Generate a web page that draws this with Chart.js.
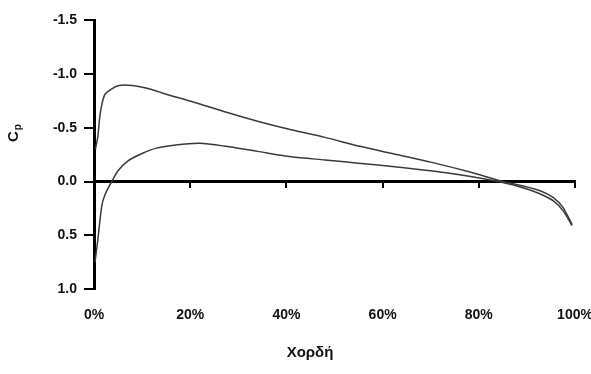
<!DOCTYPE html>
<html>
<head>
<meta charset="utf-8">
<script src="https://cdn.jsdelivr.net/npm/chart.js@4"></script>
<style>
html, body { margin: 0; padding: 0; background: #fff; }
</style>
</head>
<body>
<canvas id="chart" width="591" height="374"></canvas>
<script>
// pressure coefficient along the chord
const upperChord = [0.3, 0.8, 1.2, 1.7, 2.3, 3.7, 5, 7, 9, 12, 15, 19, 22, 27, 34, 41, 48, 55, 62, 70, 78, 85, 89, 93, 95.5, 97.5, 99.4];
const upperCp = [-0.3, -0.42, -0.6, -0.73, -0.81, -0.86, -0.89, -0.895, -0.885, -0.855, -0.81, -0.76, -0.72, -0.65, -0.56, -0.48, -0.41, -0.33, -0.26, -0.18, -0.09, 0, 0.04, 0.09, 0.15, 0.24, 0.4];
const lowerChord = [0.2, 0.8, 1.6, 2.3, 3.7, 5, 7, 10, 13, 17, 22, 27, 34, 41, 48, 55, 62, 70, 78, 83, 87, 90, 93, 95.5, 97.5, 99.4];
const lowerCp = [0.75, 0.54, 0.23, 0.12, 0, -0.1, -0.19, -0.26, -0.31, -0.34, -0.355, -0.33, -0.28, -0.23, -0.2, -0.17, -0.14, -0.1, -0.05, -0.01, 0.03, 0.07, 0.12, 0.18, 0.27, 0.41];

const chordTicks = [0, 20, 40, 60, 80, 100];
const cpTicks = [-1.5, -1.0, -0.5, 0.0, 0.5, 1.0];

const fontfam = '"Liberation Sans", Arial, sans-serif';
const tickFont = {family: fontfam, size: 14, weight: 'bold'};
const ink = '#111';

const toPoints = (xs, ys) => xs.map((x, i) => ({x: x, y: ys[i]}));
const setTicks = vals => scale => { scale.ticks = vals.map(v => ({value: v})); };

// "Cp" with a subscript, rotated, left of the y axis
const cpTitle = {
    id: 'cpTitle',
    afterDraw(chart) {
        const {ctx, chartArea} = chart;
        ctx.save();
        ctx.translate(chartArea.left - 80, chartArea.top + 110);
        ctx.rotate(-Math.PI / 2);
        ctx.fillStyle = ink;
        ctx.textBaseline = 'middle';
        ctx.font = 'bold 15px ' + fontfam;
        ctx.fillText('C', -12, 0);
        const w = ctx.measureText('C').width;
        ctx.font = 'bold 10px ' + fontfam;
        ctx.fillText('p', -12 + w + 1, 4);
        ctx.restore();
    }
};

const lineStyle = {
    borderColor: '#3a3a3a',
    borderWidth: 1.5,
    pointRadius: 0,
    tension: 0.25,
    fill: false
};

new Chart(document.getElementById('chart'), {
    type: 'line',
    data: {
        datasets: [
            Object.assign({label: 'upper', data: toPoints(upperChord, upperCp)}, lineStyle),
            Object.assign({label: 'lower', data: toPoints(lowerChord, lowerCp)}, lineStyle)
        ]
    },
    options: {
        responsive: false,
        animation: false,
        devicePixelRatio: 1,
        layout: {padding: {left: 29, right: 0, top: 20, bottom: 6}},
        plugins: {
            legend: {display: false},
            tooltip: {enabled: false},
            title: {
                display: true,
                position: 'bottom',
                text: 'Χορδή',
                color: ink,
                font: {family: fontfam, size: 15, weight: 'bold'},
                padding: {top: 2, bottom: 6}
            }
        },
        scales: {
            x: {
                type: 'linear',
                min: 0,
                max: 100,
                afterBuildTicks: setTicks(chordTicks),
                afterFit: scale => { scale.paddingRight = 16; },
                ticks: {callback: v => v + '%', padding: 18, font: tickFont, color: ink, maxRotation: 0},
                grid: {display: false, drawTicks: false},
                border: {display: false}
            },
            x0: {
                type: 'linear',
                axis: 'x',
                position: {y: 0},
                min: 0,
                max: 100,
                afterBuildTicks: setTicks(chordTicks),
                ticks: {display: false},
                grid: {drawOnChartArea: false, tickLength: 5, color: '#000', lineWidth: 2},
                border: {color: '#000', width: 3}
            },
            y: {
                type: 'linear',
                reverse: true,
                min: -1.5,
                max: 1.0,
                afterBuildTicks: setTicks(cpTicks),
                afterFit: scale => { scale.width = 65; },
                ticks: {callback: v => v.toFixed(1), padding: 7, font: tickFont, color: ink},
                grid: {drawOnChartArea: false, tickLength: 10, color: '#000', lineWidth: 2},
                border: {color: '#000', width: 3}
            }
        }
    },
    plugins: [cpTitle]
});
</script>
</body>
</html>
